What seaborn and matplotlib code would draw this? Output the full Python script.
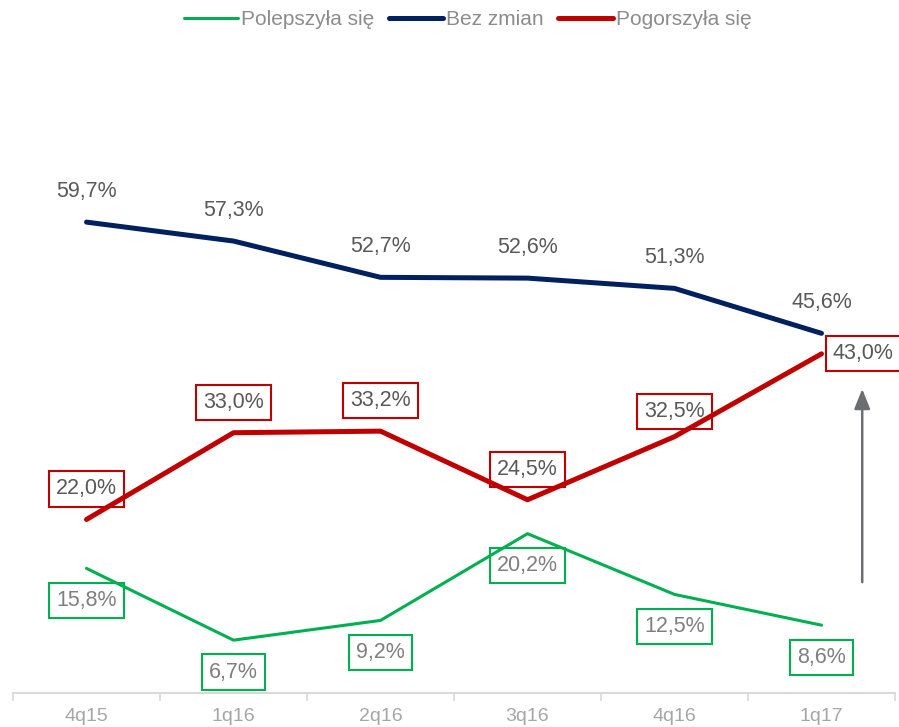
import pandas as pd
import seaborn as sns
import matplotlib.pyplot as plt
from matplotlib.lines import Line2D

# %% dane
kwartaly = ['4q15', '1q16', '2q16', '3q16', '4q16', '1q17']
polepszyla = [15.8, 6.7, 9.2, 20.2, 12.5, 8.6]
bez_zmian = [59.7, 57.3, 52.7, 52.6, 51.3, 45.6]
pogorszyla = [22.0, 33.0, 33.2, 24.5, 32.5, 43.0]

SERIE = ['Polepszyła się', 'Bez zmian', 'Pogorszyła się']
KOLORY = {'Polepszyła się': '#00b050', 'Bez zmian': '#002060', 'Pogorszyła się': '#c00000'}
GRUBOSC = {'Polepszyła się': 2.2, 'Bez zmian': 3.6, 'Pogorszyła się': 3.6}

df = pd.DataFrame({
    'poz': list(range(len(kwartaly))) * 3,
    'kwartal': kwartaly * 3,
    'seria': [s for s in SERIE for _ in kwartaly],
    'wartosc': polepszyla + bez_zmian + pogorszyla,
})

# %% wykres
sns.set_theme(style='white')
plt.rcParams['font.family'] = ['Liberation Sans', 'DejaVu Sans']

fig = plt.figure(figsize=(8.99, 7.27), dpi=100)
ax = fig.add_axes([13/899, 34/727, 882/899, 631/727])

for s in SERIE:
    sns.lineplot(data=df[df['seria'] == s], x='poz', y='wartosc', color=KOLORY[s],
                 linewidth=GRUBOSC[s], ax=ax, zorder=3, legend=False)

def fmt(v):
    return f'{v:.1f}'.replace('.', ',') + '%'

# etykiety
for _, r in df.iterrows():
    s = r['seria']
    if s == 'Bez zmian':
        ax.annotate(fmt(r['wartosc']), (r['poz'], r['wartosc']), xytext=(0, 22),
                    textcoords='offset points', ha='center', va='center',
                    fontsize=15.5, color='#595959', zorder=2)
    elif s == 'Pogorszyła się':
        if r['poz'] == 5:
            off = (30, 0)
        elif r['poz'] == 4:
            off = (0, 18)
        else:
            off = (0, 22)
        ax.annotate(fmt(r['wartosc']), (r['poz'], r['wartosc']), xytext=off,
                    textcoords='offset points', ha='center', va='center',
                    fontsize=15.5, color='#595959', zorder=2, annotation_clip=False,
                    bbox=dict(boxstyle='square,pad=0.33', fc='white', ec=KOLORY[s], lw=1.5))
    else:
        ax.annotate(fmt(r['wartosc']), (r['poz'], r['wartosc']), xytext=(0, -23),
                    textcoords='offset points', ha='center', va='center',
                    fontsize=15.5, color='#7f7f7f', zorder=2,
                    bbox=dict(boxstyle='square,pad=0.33', fc='white', ec=KOLORY[s], lw=1.5))

# strzalka
ax.annotate('', xy=(5.277, 38.9), xytext=(5.277, 13.7),
            arrowprops=dict(arrowstyle='-|>,head_width=0.4,head_length=1.0',
                            color='#6d6e71', lw=1.8))

ax.set_xlim(-0.5, 5.5)
ax.set_ylim(0, 80)
ax.set_xticks([i - 0.5 for i in range(len(kwartaly) + 1)])
ax.set_xticklabels([])
ax.set_xticks(range(len(kwartaly)), minor=True)
ax.set_xticklabels(kwartaly, minor=True)
ax.tick_params(axis='x', which='major', length=6, width=1.2, color='#d9d9d9', bottom=True)
ax.tick_params(axis='x', which='minor', length=0, pad=11, labelsize=14, labelcolor='#a6a6a6')
ax.set_yticks([])
ax.set_xlabel('')
ax.set_ylabel('')
for sp in ['left', 'right', 'top']:
    ax.spines[sp].set_visible(False)
ax.spines['bottom'].set_color('#d9d9d9')
ax.spines['bottom'].set_linewidth(1.5)

uchwyty = [Line2D([0], [0], color=KOLORY[s], lw=GRUBOSC[s], solid_capstyle='round') for s in SERIE]
fig.legend(uchwyty, SERIE, loc='upper center', bbox_to_anchor=(0.52, 1.012), ncol=3,
           frameon=False, fontsize=15, labelcolor='#8c8c8c', handlelength=2.6,
           handletextpad=0.15, columnspacing=0.7)

plt.savefig('out.png', dpi=100)
